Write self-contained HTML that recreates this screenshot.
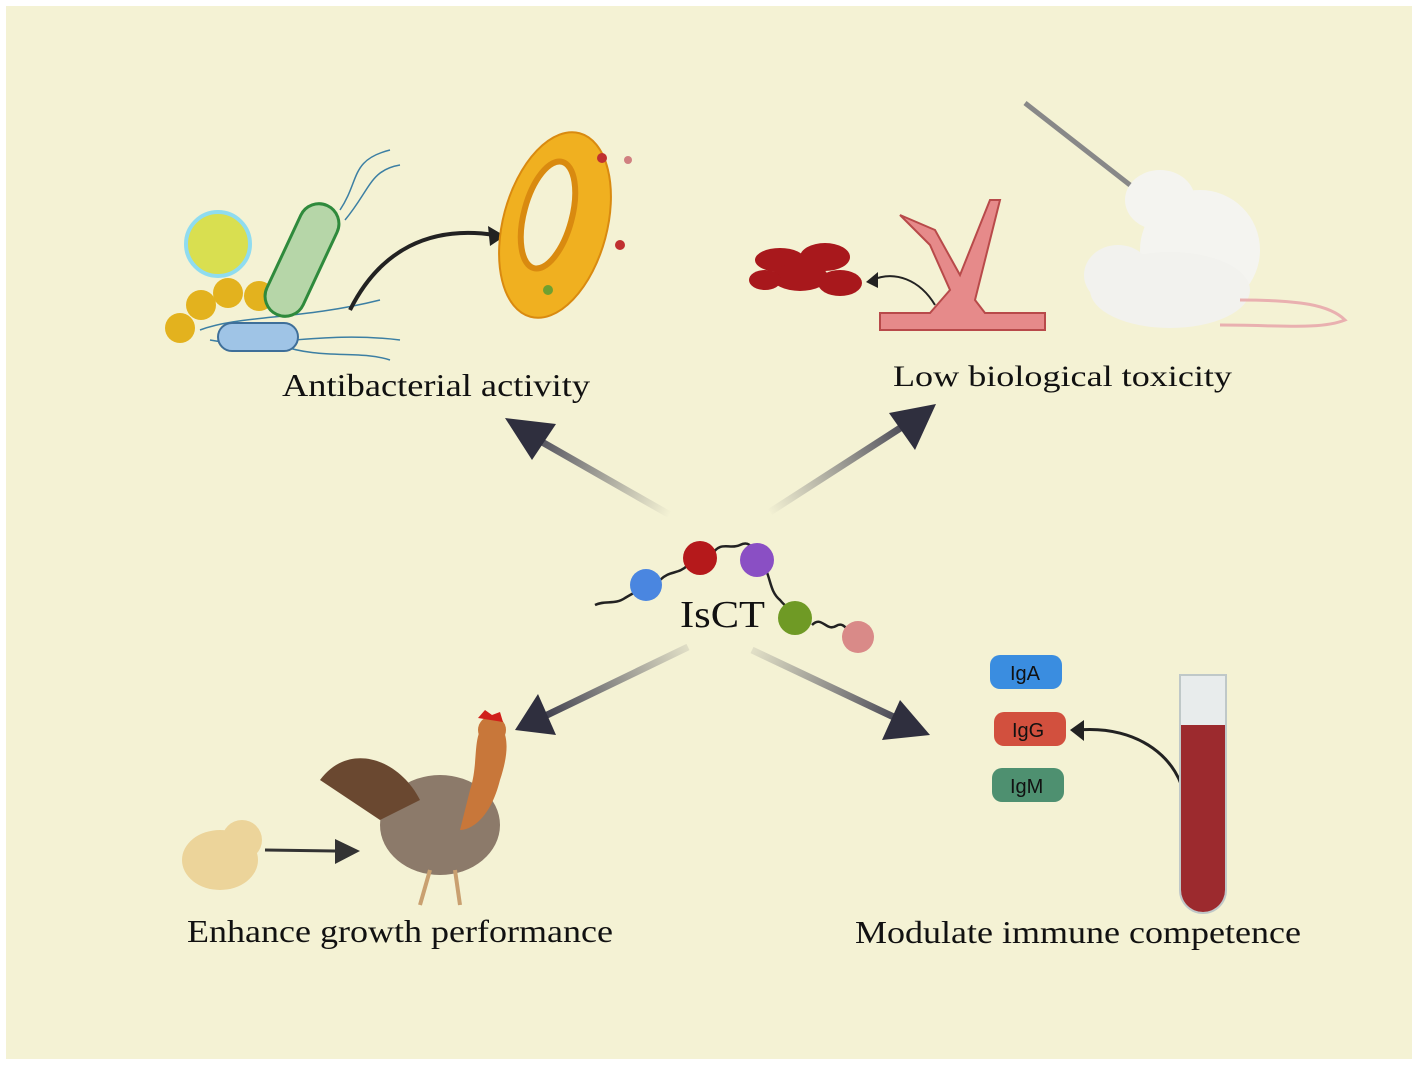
<!DOCTYPE html>
<html><head><style>
html,body{margin:0;padding:0;background:#fff;}
svg{display:block}
text{font-family:"Liberation Serif",serif;fill:#111}
</style></head><body>
<svg width="1418" height="1066" viewBox="0 0 1418 1066" xmlns="http://www.w3.org/2000/svg">
<defs>
<linearGradient id="g1" x1="670" y1="515" x2="520" y2="430" gradientUnits="userSpaceOnUse"><stop offset="0" stop-color="#4a4a5a" stop-opacity="0"/><stop offset="1" stop-color="#3a3a4a"/></linearGradient>
<linearGradient id="g2" x1="770" y1="515" x2="920" y2="420" gradientUnits="userSpaceOnUse"><stop offset="0" stop-color="#4a4a5a" stop-opacity="0"/><stop offset="1" stop-color="#3a3a4a"/></linearGradient>
<linearGradient id="g3" x1="690" y1="645" x2="540" y2="720" gradientUnits="userSpaceOnUse"><stop offset="0" stop-color="#4a4a5a" stop-opacity="0.1"/><stop offset="1" stop-color="#3a3a4a"/></linearGradient>
<linearGradient id="g4" x1="750" y1="650" x2="910" y2="725" gradientUnits="userSpaceOnUse"><stop offset="0" stop-color="#4a4a5a" stop-opacity="0.1"/><stop offset="1" stop-color="#3a3a4a"/></linearGradient>
</defs>
<rect x="6" y="6" width="1406" height="1053" fill="#f4f2d4"/>

<line x1="670" y1="515" x2="535" y2="438" stroke="url(#g1)" stroke-width="7"/>
<polygon points="505,418 556,424 532,460" fill="#2f2f3e"/>
<line x1="770" y1="512" x2="905" y2="425" stroke="url(#g2)" stroke-width="7"/>
<polygon points="936,404 915,450 889,413" fill="#2f2f3e"/>
<line x1="688" y1="647" x2="545" y2="716" stroke="url(#g3)" stroke-width="7"/>
<polygon points="515,730 538,694 556,735" fill="#2f2f3e"/>
<line x1="752" y1="650" x2="900" y2="720" stroke="url(#g4)" stroke-width="7"/>
<polygon points="930,735 882,740 900,700" fill="#2f2f3e"/>

<path d="M595,605 C605,600 615,605 625,598 C635,592 640,590 646,585 M660,580 C670,570 678,575 688,565 M712,555 C720,540 730,550 740,545 C750,540 752,548 760,560 C772,575 768,590 780,600 C790,612 785,600 800,618 M812,625 C822,615 826,632 836,626 C846,620 848,636 858,637" fill="none" stroke="#222" stroke-width="2.5"/>
<circle cx="646" cy="585" r="16" fill="#4a86e0"/>
<circle cx="700" cy="558" r="17" fill="#b5191b"/>
<circle cx="757" cy="560" r="17" fill="#8a4fc4"/>
<circle cx="795" cy="618" r="17" fill="#6f9a25"/>
<circle cx="858" cy="637" r="16" fill="#d98a88"/>
<text x="680" y="627" font-size="38" textLength="85" lengthAdjust="spacingAndGlyphs">IsCT</text>

<text x="282" y="396" font-size="32" textLength="308" lengthAdjust="spacingAndGlyphs">Antibacterial activity</text>
<text x="893" y="386" font-size="30" textLength="339" lengthAdjust="spacingAndGlyphs">Low biological toxicity</text>
<text x="187" y="942" font-size="32" textLength="426" lengthAdjust="spacingAndGlyphs">Enhance growth performance</text>
<text x="855" y="943" font-size="32" textLength="446" lengthAdjust="spacingAndGlyphs">Modulate immune competence</text>

<circle cx="218" cy="244" r="32" fill="#d9df50" stroke="#8fdcf0" stroke-width="4"/>
<circle cx="180" cy="328" r="15" fill="#e3b21e"/>
<circle cx="201" cy="305" r="15" fill="#e3b21e"/>
<circle cx="228" cy="293" r="15" fill="#e3b21e"/>
<circle cx="259" cy="296" r="15" fill="#e3b21e"/>
<g stroke="#3c7fa3" stroke-width="1.5" fill="none">
<path d="M200,330 C240,315 300,320 380,300"/><path d="M210,340 C260,350 320,330 400,340"/><path d="M280,345 C320,360 360,350 390,360"/>
<path d="M340,210 C360,180 350,160 390,150"/><path d="M345,220 C370,190 370,170 400,165"/>
</g>
<rect x="282" y="200" width="40" height="120" rx="20" transform="rotate(25 302 260)" fill="#b6d6a8" stroke="#2f8a3c" stroke-width="3"/>
<rect x="218" y="323" width="80" height="28" rx="14" fill="#9fc4e6" stroke="#3f6f99" stroke-width="2"/>
<path d="M350,310 C380,250 430,225 495,235" fill="none" stroke="#222" stroke-width="4"/>
<polygon points="505,236 488,226 490,246" fill="#222"/>
<ellipse cx="555" cy="225" rx="52" ry="95" transform="rotate(15 555 225)" fill="#f0b020" stroke="#d98a10" stroke-width="2"/>
<ellipse cx="548" cy="215" rx="24" ry="55" transform="rotate(15 548 215)" fill="#f4f2d4" stroke="#d98a10" stroke-width="6"/>
<circle cx="602" cy="158" r="5" fill="#c03030"/><circle cx="620" cy="245" r="5" fill="#c03030"/><circle cx="548" cy="290" r="5" fill="#6fa030"/><circle cx="628" cy="160" r="4" fill="#d08080"/>

<path d="M880,330 L1045,330 L1045,313 L985,313 L975,300 L1000,200 L990,200 L960,275 L935,230 L900,215 L930,245 L950,290 L930,313 L880,313 Z" fill="#e68a8a" stroke="#b84a4a" stroke-width="2"/>
<g fill="#a8181c">
<ellipse cx="780" cy="260" rx="25" ry="12"/><ellipse cx="825" cy="257" rx="25" ry="14"/><ellipse cx="800" cy="277" rx="28" ry="14"/><ellipse cx="840" cy="283" rx="22" ry="13"/><ellipse cx="765" cy="280" rx="16" ry="10"/>
</g>
<path d="M935,305 C920,280 895,270 872,280" fill="none" stroke="#222" stroke-width="2"/>
<polygon points="866,282 878,272 878,288" fill="#222"/>
<ellipse cx="1200" cy="250" rx="60" ry="60" fill="#f4f4f0"/>
<ellipse cx="1160" cy="200" rx="35" ry="30" fill="#f4f4f0"/>
<ellipse cx="1170" cy="290" rx="80" ry="38" fill="#f2f2ee"/>
<ellipse cx="1118" cy="275" rx="34" ry="30" fill="#f2f2ee"/>
<path d="M1240,300 C1300,300 1330,305 1345,320 C1320,330 1280,325 1220,325" fill="none" stroke="#e9b0b0" stroke-width="3"/>
<line x1="1025" y1="103" x2="1130" y2="185" stroke="#888" stroke-width="5"/>

<ellipse cx="220" cy="860" rx="38" ry="30" fill="#ecd49a"/>
<circle cx="242" cy="840" r="20" fill="#ecd49a"/>
<line x1="265" y1="850" x2="335" y2="851" stroke="#333" stroke-width="3"/>
<polygon points="360,851 335,839 335,864" fill="#333"/>
<ellipse cx="440" cy="825" rx="60" ry="50" fill="#8c7a6a"/>
<path d="M320,780 C350,740 400,760 420,800 L380,820 Z" fill="#6a4830"/>
<path d="M470,790 C480,760 470,730 490,720 C510,725 510,750 500,780 C490,820 470,830 460,830 Z" fill="#c8773a"/>
<circle cx="492" cy="730" r="14" fill="#c8773a"/>
<path d="M478,718 L485,710 L492,715 L500,712 L503,722 Z" fill="#d0201a"/>
<line x1="430" y1="870" x2="420" y2="905" stroke="#c9a070" stroke-width="4"/><line x1="455" y1="870" x2="460" y2="905" stroke="#c9a070" stroke-width="4"/>

<rect x="990" y="655" width="72" height="34" rx="10" fill="#3a8de0"/><text x="1010" y="680" font-size="20" style="font-family:'Liberation Sans',sans-serif">IgA</text>
<rect x="994" y="712" width="72" height="34" rx="10" fill="#d2503e"/><text x="1012" y="737" font-size="20" style="font-family:'Liberation Sans',sans-serif">IgG</text>
<rect x="992" y="768" width="72" height="34" rx="10" fill="#4e9070"/><text x="1010" y="793" font-size="20" style="font-family:'Liberation Sans',sans-serif">IgM</text>
<path d="M1185,800 C1180,760 1140,725 1078,730" fill="none" stroke="#222" stroke-width="3"/>
<polygon points="1070,730 1084,720 1084,741" fill="#222"/>
<path d="M1180,675 L1226,675 L1226,890 A23,23 0 0 1 1180,890 Z" fill="#e8ecec" stroke="#bfc8c8" stroke-width="2"/>
<path d="M1181,725 L1225,725 L1225,890 A22,22 0 0 1 1181,890 Z" fill="#9c2a2e"/>
</svg>
</body></html>
